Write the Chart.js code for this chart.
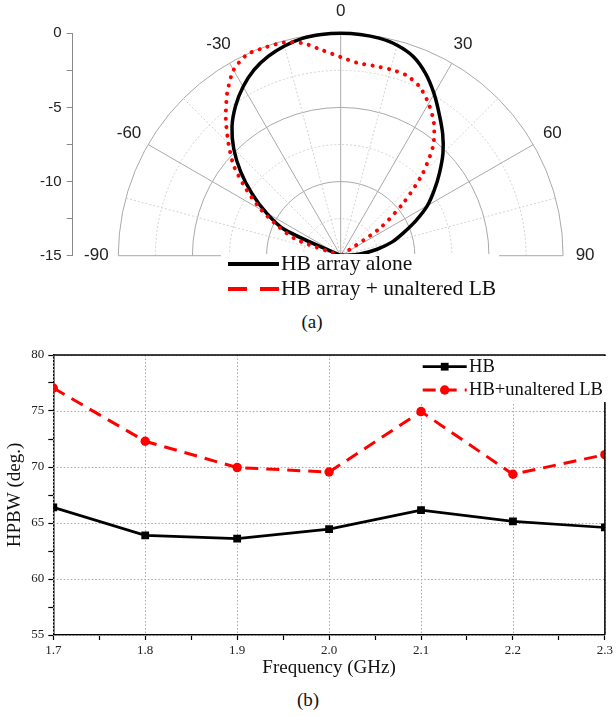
<!DOCTYPE html>
<html>
<head>
<meta charset="utf-8">
<script src="https://cdn.jsdelivr.net/npm/chart.js@4/dist/chart.umd.min.js"></script>
<style>
  body { margin: 0; background: #fff; width: 616px; height: 716px; position: relative; overflow: hidden; }
  #polar { position: absolute; left: 0; top: 0; }
  #hpbw { position: absolute; left: 0; top: 340px; }
  .cap { position: absolute; font-family: 'Liberation Serif', 'Times New Roman', serif; font-size: 19px; color: #111; transform: translateX(-50%); line-height: 22px; }
</style>
</head>
<body>
<canvas id="polar" width="616" height="305"></canvas>
<div class="cap" style="left:312px; top:311px">(a)</div>
<canvas id="hpbw" width="616" height="345"></canvas>
<div class="cap" style="left:308px; top:689px">(b)</div>
<script>
// radiation pattern, degrees and dB (values under -15 dB sit at the centre)
const angles = [-90, -85, -80, -75, -70, -65, -60, -55, -50, -45, -40, -35, -30, -25, -20, -15, -10, -5,
  0, 5, 10, 15, 20, 25, 30, 35, 40, 45, 50, 55, 60, 65, 70, 75, 80, 85, 90];
const hbAlone = [-15, -15, -15, -15, -15, -10.8, -9.2, -7.7, -6.2, -4.8, -3.6, -2.65, -1.84, -1.17, -0.7, -0.36, -0.12, -0.03,
  0, -0.02, -0.1, -0.3, -0.7, -1.45, -2.4, -3.4, -4.3, -5.25, -6.3, -7.3, -8.25, -9.4, -10.5, -11.4, -12.5, -13.7, -15];
const hbWithLb = [-15, -15, -15, -15, -11.8, -10.4, -8.8, -7.25, -5.6, -4.3, -2.95, -1.65, -0.55, -0.04, -0.06, -0.12, -0.45, -1.1,
  -1.6, -1.95, -2.0, -2.0, -2.05, -2.42, -3.15, -4.05, -5.3, -7.2, -9.5, -11.8, -15, -15, -15, -15, -15, -15, -15];
const ringLevels = [-12.5, -10, -7.5, -5, -2.5, 0];
const spokeAngles = [-75, -60, -45, -30, -15, 0, 15, 30, 45, 60, 75];
const angleLabels = [-90, -60, -30, 0, 30, 60, 90];
const DB_MIN = -15;

// half-power beamwidth against frequency
const freqs = [1.7, 1.8, 1.9, 2.0, 2.1, 2.2, 2.3];
const hpbwHB = [66.4, 63.9, 63.6, 64.45, 66.15, 65.15, 64.6];
const hpbwHBLB = [77.05, 72.3, 69.95, 69.55, 74.95, 69.35, 71.1];

const SANS = '"Liberation Sans", Arial, sans-serif';
const SERIF = '"Liberation Serif", "Times New Roman", serif';

function toXY(vals) {
  return angles.map((a, i) => {
    const r = Math.max(0, vals[i] - DB_MIN);
    const t = a * Math.PI / 180;
    return { x: r * Math.sin(t), y: r * Math.cos(t) };
  });
}

const polarGrid = {
  id: 'polarGrid',
  beforeDatasetsDraw(chart) {
    const { ctx, scales: { x, y } } = chart;
    const cx = x.getPixelForValue(0), cy = y.getPixelForValue(0);
    const radius = db => cy - y.getPixelForValue(db - DB_MIN);
    const R = radius(0);
    ctx.save();
    ctx.lineWidth = 1;
    // rings
    ringLevels.forEach(lv => {
      const major = lv % 5 === 0;
      ctx.strokeStyle = major ? '#a9a9a9' : '#d2d2d2';
      ctx.setLineDash(major ? [] : [2, 2]);
      ctx.beginPath();
      ctx.arc(cx, cy, radius(lv), Math.PI, 2 * Math.PI);
      ctx.stroke();
    });
    // spokes
    spokeAngles.forEach(a => {
      const major = a % 30 === 0;
      const t = a * Math.PI / 180;
      ctx.strokeStyle = major ? '#a9a9a9' : '#d2d2d2';
      ctx.setLineDash(major ? [] : [2, 2]);
      ctx.beginPath();
      ctx.moveTo(cx, cy);
      ctx.lineTo(cx + R * Math.sin(t), cy - R * Math.cos(t));
      ctx.stroke();
    });
    ctx.setLineDash([]);
    ctx.strokeStyle = '#a9a9a9';
    ctx.beginPath();
    ctx.moveTo(cx - R, cy);
    ctx.lineTo(cx + R, cy);
    ctx.stroke();
    // angle labels
    ctx.fillStyle = '#222';
    ctx.font = '17px ' + SANS;
    ctx.textAlign = 'center';
    ctx.textBaseline = 'middle';
    angleLabels.forEach(a => {
      const t = a * Math.PI / 180;
      const rl = R + 22;
      ctx.fillText(String(a), cx + rl * Math.sin(t), cy - rl * Math.cos(t));
    });
    ctx.restore();
  },
  afterDraw(chart) {
    const { ctx } = chart;
    const ds = chart.data.datasets;
    ctx.save();
    ctx.fillStyle = '#fff';
    ctx.fillRect(221, 254, 278, 48);
    ctx.font = '21.5px ' + SERIF;
    ctx.textBaseline = 'middle';
    ctx.textAlign = 'left';
    const rows = [
      { d: ds.find(d => d.id === 'alone'), y: 264, dash: [] },
      { d: ds.find(d => d.id === 'lb'), y: 289, dash: [19, 13] },
    ];
    rows.forEach(({ d, y, dash }) => {
      ctx.strokeStyle = d.borderColor;
      ctx.lineWidth = 4;
      ctx.setLineDash(dash);
      ctx.beginPath();
      ctx.moveTo(228, y);
      ctx.lineTo(279, y);
      ctx.stroke();
      ctx.fillStyle = '#111';
      ctx.fillText(d.label, 281, y);
    });
    ctx.restore();
  }
};

new Chart(document.getElementById('polar'), {
  type: 'scatter',
  data: {
    datasets: [
      {
        id: 'alone',
        label: 'HB array alone',
        data: toXY(hbAlone),
        showLine: true,
        borderColor: '#000',
        borderWidth: 3.5,
        pointRadius: 0,
        tension: 0.3,
        clip: false,
        order: 1,
      },
      {
        id: 'lb',
        label: 'HB array + unaltered LB',
        data: toXY(hbWithLb),
        showLine: true,
        borderColor: '#ff0000',
        borderWidth: 4,
        borderDash: [0.1, 8.3],
        borderCapStyle: 'round',
        pointRadius: 0,
        tension: 0.25,
        clip: false,
        order: 0,
      },
    ],
  },
  options: {
    responsive: false,
    animation: false,
    devicePixelRatio: 1,
    layout: { padding: { top: 33.3, right: 7.3, bottom: 49.3, left: 0 } },
    plugins: { legend: { display: false }, tooltip: { enabled: false } },
    scales: {
      x: { type: 'linear', display: false, min: -18.07, max: 18.07 },
      y: {
        type: 'linear',
        min: 0,
        max: 15,
        afterFit: s => { s.width = 72.7; },
        ticks: {
          stepSize: 2.5,
          padding: 5,
          color: '#222',
          font: { family: SANS, size: 15 },
          callback: (v, i) => (i % 2 === 0 ? String(v + DB_MIN) : ''),
        },
        grid: { drawOnChartArea: false, tickLength: 6, color: '#8a8a8a' },
        border: { color: '#8a8a8a', width: 1 },
      },
    },
  },
  plugins: [polarGrid],
});

// dotted grid, frame and legend for the beamwidth plot
const hpbwExtras = {
  id: 'hpbwExtras',
  beforeDatasetsDraw(chart) {
    const { ctx, chartArea: a, scales: { x, y } } = chart;
    ctx.save();
    ctx.strokeStyle = '#a8a8a8';
    ctx.lineWidth = 1;
    ctx.setLineDash([1.5, 2]);
    x.ticks.forEach((t, i) => {
      if (i % 2) return;
      const px = Math.round(x.getPixelForValue(t.value)) + 0.5;
      ctx.beginPath();
      ctx.moveTo(px, a.top);
      ctx.lineTo(px, a.bottom);
      ctx.stroke();
    });
    y.ticks.forEach((t, i) => {
      if (i % 2) return;
      const py = Math.round(y.getPixelForValue(t.value)) + 0.5;
      ctx.beginPath();
      ctx.moveTo(a.left, py);
      ctx.lineTo(a.right, py);
      ctx.stroke();
    });
    ctx.restore();
  },
  afterDatasetsDraw(chart) {
    const { ctx, chartArea: a } = chart;
    ctx.save();
    ctx.strokeStyle = '#000';
    ctx.lineWidth = 1.5;
    ctx.beginPath();
    ctx.moveTo(a.left, a.top);
    ctx.lineTo(a.right, a.top);
    ctx.lineTo(a.right, a.bottom);
    ctx.stroke();

    ctx.fillStyle = '#fff';
    ctx.fillRect(420, 16, 187, 46);
    ctx.font = '18.6px ' + SERIF;
    ctx.textBaseline = 'middle';
    ctx.textAlign = 'left';
    chart.data.datasets.forEach((d, i) => {
      const y = 26.7 + i * 23.3;
      ctx.strokeStyle = d.borderColor;
      ctx.lineWidth = d.borderWidth;
      ctx.setLineDash(d.borderDash || []);
      ctx.beginPath();
      ctx.moveTo(422.7, y);
      ctx.lineTo(466.7, y);
      ctx.stroke();
      ctx.setLineDash([]);
      ctx.fillStyle = d.pointBackgroundColor;
      ctx.beginPath();
      if (d.pointStyle === 'rect') {
        const s = d.pointRadius * Math.SQRT1_2;
        ctx.rect(444.7 - s, y - s, 2 * s, 2 * s);
      } else {
        ctx.arc(444.7, y, d.pointRadius, 0, 2 * Math.PI);
      }
      ctx.fill();
      ctx.fillStyle = '#111';
      ctx.fillText(d.label, 469, y);
    });
    ctx.restore();
  }
};

const axisGrid = {
  drawOnChartArea: false,
  tickColor: '#000',
  tickLength: 5,
  tickWidth: 1.2,
};

new Chart(document.getElementById('hpbw'), {
  type: 'line',
  data: {
    datasets: [
      {
        label: 'HB',
        data: freqs.map((f, i) => ({ x: f, y: hpbwHB[i] })),
        borderColor: '#000',
        borderWidth: 2.7,
        pointStyle: 'rect',
        pointRadius: 5.5,
        pointBackgroundColor: '#000',
        pointBorderWidth: 0,
        tension: 0,
        clip: 0,
      },
      {
        label: 'HB+unaltered LB',
        data: freqs.map((f, i) => ({ x: f, y: hpbwHBLB[i] })),
        borderColor: '#ff0000',
        borderWidth: 3,
        borderDash: [13, 8],
        pointStyle: 'circle',
        pointRadius: 4.7,
        pointBackgroundColor: '#ff0000',
        pointBorderWidth: 0,
        tension: 0,
        clip: 0,
      },
    ],
  },
  options: {
    responsive: false,
    animation: false,
    devicePixelRatio: 1,
    layout: { padding: { top: 15, right: 7.3, bottom: 0, left: 0 } },
    plugins: { legend: { display: false }, tooltip: { enabled: false } },
    scales: {
      x: {
        type: 'linear',
        min: 1.7,
        max: 2.3,
        afterFit: s => { s.height = 50; },
        ticks: {
          stepSize: 0.05,
          autoSkip: false,
          maxRotation: 0,
          padding: 3,
          color: '#222',
          font: { family: SERIF, size: 13 },
          callback: (v, i) => (i % 2 === 0 ? v.toFixed(1) : ''),
        },
        grid: axisGrid,
        border: { color: '#000', width: 1.5 },
        title: {
          display: true,
          text: 'Frequency (GHz)',
          color: '#111',
          font: { family: SERIF, size: 19 },
          padding: { top: 0, bottom: 5.6 },
        },
      },
      y: {
        type: 'linear',
        min: 55,
        max: 80,
        afterFit: s => { s.width = 53.3; },
        ticks: {
          stepSize: 2.5,
          padding: 4,
          color: '#222',
          font: { family: SERIF, size: 13 },
          callback: (v, i) => (i % 2 === 0 ? String(v) : ''),
        },
        grid: axisGrid,
        border: { color: '#000', width: 1.5 },
        title: {
          display: true,
          text: 'HPBW (deg.)',
          color: '#111',
          font: { family: SERIF, size: 19 },
          padding: { top: 3.6, bottom: 0 },
        },
      },
    },
  },
  plugins: [hpbwExtras],
});
</script>
</body>
</html>
